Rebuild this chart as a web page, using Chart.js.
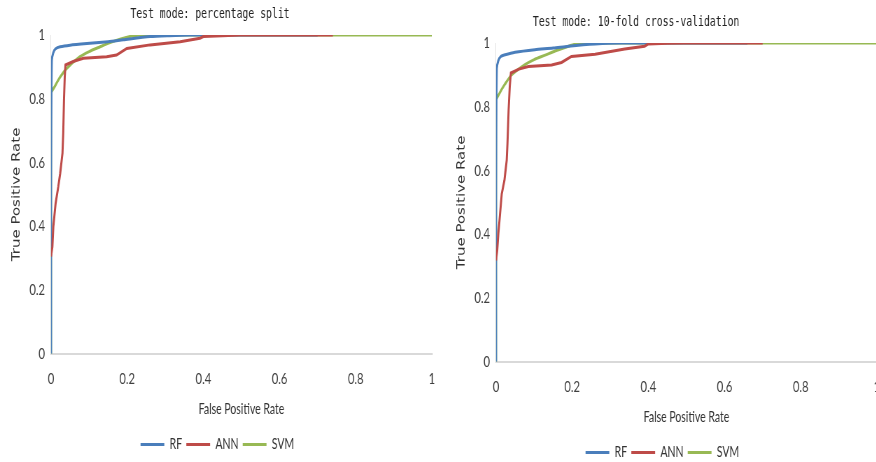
<!DOCTYPE html>
<html>
<head>
<meta charset="utf-8">
<script src="https://cdn.jsdelivr.net/npm/chart.js@4.4.1/dist/chart.umd.min.js"></script>
<style>
  html, body { margin: 0; padding: 0; background: #fff; overflow: hidden; width: 876px; height: 462px; }
  /* the original figure is squeezed sideways, so the canvases are too */
  canvas { position: absolute; transform: scaleX(0.7); transform-origin: 0 0; }
  #left { left: 0; top: 0; }
  #right { left: 445px; top: 8px; }
</style>
</head>
<body>
<canvas id="left" width="628" height="462"></canvas>
<canvas id="right" width="628" height="462"></canvas>
<script>
// series names + tick values
const seriesNames = ['RF', 'ANN', 'SVM'];
const tickValues = [0, 0.2, 0.4, 0.6, 0.8, 1];

// Test mode: percentage split
const splitRfFpr = [0, 0, 0.002, 0.006, 0.012, 0.024, 0.05, 0.102, 0.15, 0.19, 0.26, 0.31, 0.365, 0.7];
const splitRfTpr = [0, 0.5, 0.92, 0.945, 0.957, 0.963, 0.968, 0.974, 0.979, 0.985, 0.995, 0.998, 1, 1];
const splitAnnFpr = [0, 0.0035, 0.006, 0.012, 0.019, 0.024, 0.028, 0.03, 0.032, 0.034, 0.036, 0.038, 0.058, 0.085, 0.146, 0.172, 0.199, 0.26, 0.339, 0.391, 0.4, 0.45, 0.496, 0.6, 0.74];
const splitAnnTpr = [0.305, 0.336, 0.399, 0.472, 0.524, 0.566, 0.608, 0.629, 0.692, 0.796, 0.869, 0.906, 0.917, 0.927, 0.932, 0.937, 0.958, 0.969, 0.979, 0.99, 0.995, 0.998, 1, 1, 1];
const splitSvmFpr = [0, 0, 0.0105, 0.024, 0.041, 0.076, 0.1, 0.129, 0.155, 0.181, 0.21, 0.234, 0.3, 0.5, 0.7, 0.85, 1];
const splitSvmTpr = [0, 0.815, 0.84, 0.868, 0.895, 0.932, 0.948, 0.963, 0.976, 0.987, 0.996, 1, 1, 1, 1, 1, 1];

// Test mode: 10-fold cross-validation
const cvRfFpr = [0, 0, 0.002, 0.006, 0.012, 0.024, 0.05, 0.102, 0.15, 0.19, 0.26, 0.33, 0.66];
const cvRfTpr = [0, 0.5, 0.92, 0.945, 0.957, 0.963, 0.971, 0.979, 0.984, 0.99, 0.997, 1, 1];
const cvAnnFpr = [0, 0.003, 0.006, 0.009, 0.015, 0.022, 0.028, 0.03, 0.033, 0.036, 0.039, 0.06, 0.085, 0.146, 0.172, 0.198, 0.26, 0.338, 0.39, 0.4, 0.45, 0.495, 0.6, 0.7];
const cvAnnTpr = [0.318, 0.349, 0.402, 0.443, 0.527, 0.569, 0.632, 0.685, 0.789, 0.863, 0.906, 0.918, 0.926, 0.931, 0.939, 0.958, 0.965, 0.981, 0.99, 0.997, 0.999, 1, 1, 1];
const cvSvmFpr = [0, 0, 0.009, 0.024, 0.041, 0.076, 0.1, 0.129, 0.155, 0.181, 0.205, 0.225, 0.3, 0.5, 0.7, 0.85, 1];
const cvSvmTpr = [0, 0.817, 0.842, 0.872, 0.9, 0.932, 0.948, 0.962, 0.975, 0.986, 0.995, 1, 1, 1, 1, 1, 1];

const lineColors = ['#4a7ebb', '#be4b48', '#98b954'];
const drawOrder = [1, 0, 2]; // ANN on top, then RF, SVM at the back
const sansFont = "Lato, 'Liberation Sans', sans-serif";

// moves the title sideways, the original titles sit left of centre
const titleNudge = {
    id: 'titleNudge',
    afterLayout(chart, args, opts) {
        const t = chart.titleBlock;
        if (t && opts.dx) { t.left += opts.dx; t.right += opts.dx; }
    }
};

function pts(xs, ys) {
    return xs.map((x, i) => ({ x: x, y: ys[i] }));
}

function makeChart(id, title, curves, dx) {
    const ctx = document.getElementById(id).getContext('2d');
    return new Chart(ctx, {
        type: 'line',
        plugins: [titleNudge],
        data: {
            datasets: curves.map((c, i) => ({
                label: seriesNames[i],
                data: pts(c[0], c[1]),
                borderColor: lineColors[i],
                backgroundColor: lineColors[i],
                borderWidth: 3,
                pointRadius: 0,
                order: drawOrder[i],
                tension: i === 1 ? 0 : 0.25,
                fill: false
            }))
        },
        options: {
            responsive: false,
            animation: false,
            layout: { padding: { left: 4, right: 11, top: 0, bottom: 0 } },
            plugins: {
                titleNudge: { dx: dx },
                title: {
                    display: true,
                    text: title,
                    color: '#222',
                    font: { family: "'DejaVu Sans Mono', 'Liberation Mono', monospace", size: 14, weight: 'normal' },
                    padding: { top: 5.6, bottom: 12.6 }
                },
                legend: {
                    position: 'bottom',
                    labels: {
                        usePointStyle: true,
                        pointStyle: 'line',
                        pointStyleWidth: 34,
                        boxHeight: 3,
                        padding: 6,
                        color: '#333',
                        font: { family: sansFont, size: 15 },
                        sort: (a, b) => a.datasetIndex - b.datasetIndex
                    }
                },
                tooltip: { enabled: false }
            },
            scales: {
                x: {
                    type: 'linear',
                    min: 0, max: 1,
                    grid: { display: false, drawTicks: false },
                    border: { display: true, color: '#d9d9d9', width: 2 },
                    afterBuildTicks: s => { s.ticks = tickValues.map(v => ({ value: v })); },
                    // the last label may run past the plot, like the original
                    afterFit: s => { s.paddingRight = 0; },
                    ticks: {
                        padding: 15.5, color: '#404040', font: { family: sansFont, size: 16 },
                        callback: v => String(+v.toFixed(1))
                    },
                    title: {
                        display: true,
                        text: 'False Positive Rate',
                        color: '#333',
                        font: { family: sansFont, size: 15 },
                        padding: { top: -4, bottom: 13 }
                    }
                },
                y: {
                    type: 'linear',
                    min: 0, max: 1,
                    grid: { display: false, drawTicks: false },
                    border: { display: true, color: '#e4e4e4', width: 1 },
                    afterBuildTicks: s => { s.ticks = tickValues.map(v => ({ value: v })); },
                    afterFit: s => { s.width = 68.9; },
                    ticks: {
                        padding: 8.6, color: '#404040', font: { family: sansFont, size: 16 },
                        callback: v => String(+v.toFixed(1))
                    },
                    title: {
                        display: true,
                        text: 'True Positive Rate',
                        color: '#333',
                        font: { family: "'DejaVu Sans', Verdana, sans-serif", size: 15 },
                        padding: { top: 11.5, bottom: 3 }
                    }
                }
            }
        }
    });
}

makeChart('left', 'Test mode: percentage split', [
    [splitRfFpr, splitRfTpr],
    [splitAnnFpr, splitAnnTpr],
    [splitSvmFpr, splitSvmTpr]
], -10.5);

makeChart('right', 'Test mode: 10-fold cross-validation', [
    [cvRfFpr, cvRfTpr],
    [cvAnnFpr, cvAnnTpr],
    [cvSvmFpr, cvSvmTpr]
], -37.5);
</script>
</body>
</html>
